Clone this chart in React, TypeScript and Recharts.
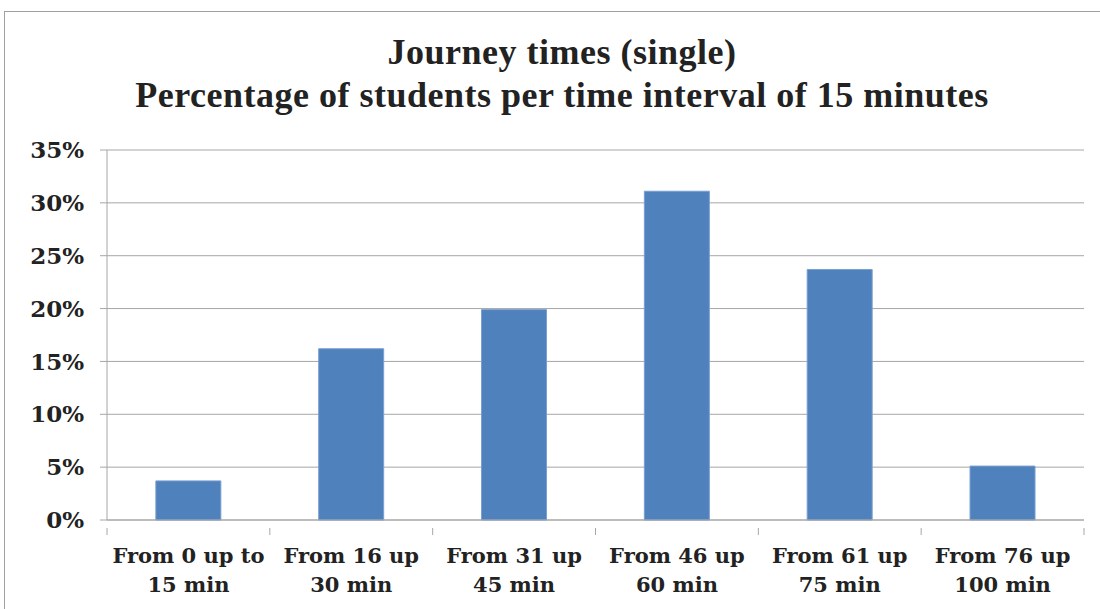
import React from 'react';
import { BarChart, Bar, XAxis, YAxis, CartesianGrid } from 'recharts';

const categories = [
  'From 0 up to|15 min',
  'From 16 up|30 min',
  'From 31 up|45 min',
  'From 46 up|60 min',
  'From 61 up|75 min',
  'From 76 up|100 min',
];
const percentages = [3.7, 16.2, 19.9, 31.1, 23.7, 5.1];
const yTicks = [0, 5, 10, 15, 20, 25, 30, 35];
const titleLines = ['Journey times (single)', 'Percentage of students per time interval of 15 minutes'];

const data = categories.map((c, i) => ({ name: c, value: percentages[i] }));

const W = 1100;
const H = 609;
const M = { top: 150, right: 16, left: 0, bottom: 0 };
const Y_W = 107;
const X_H = 89;
const FONT = '"DejaVu Serif", serif';
const GRID = '#a6a6a6';

const XTick = (props: any) => {
  const { x, y, payload, index } = props;
  const band = (W - M.right - Y_W) / categories.length;
  const parts = String(payload.value).split('|');
  const last = index === categories.length - 1;
  return (
    <g>
      <line x1={x - band / 2} x2={x - band / 2} y1={y} y2={y + 7} stroke={GRID} />
      {last && <line x1={x + band / 2} x2={x + band / 2} y1={y} y2={y + 7} stroke={GRID} />}
      <text textAnchor="middle" fontFamily={FONT} fontWeight="bold" fontSize={21} fill="#222">
        {parts.map((p, i) => (
          <tspan key={i} x={x} y={y + 35 + i * 29}>{p}</tspan>
        ))}
      </text>
    </g>
  );
};

export default function App() {
  return (
    <div style={{ position: 'absolute', left: 0, top: 0, width: W, height: H, background: '#fff', overflow: 'hidden' }}>
      <div style={{ position: 'absolute', left: 4, top: 11, width: W + 10, height: H, border: '1px solid #a0a0a0', boxSizing: 'border-box' }} />
      <div style={{ position: 'absolute', left: 12, top: 31, width: W, textAlign: 'center', fontFamily: '"Liberation Serif", serif', fontWeight: 'bold', fontSize: 36, lineHeight: '43px', color: '#222', letterSpacing: 0.5 }}>
        {titleLines.map((t, i) => <div key={i}>{t}</div>)}
      </div>
      <div style={{ position: 'absolute', left: 0, top: 0 }}>
        <BarChart width={W} height={H} data={data} margin={M} barCategoryGap="30%">
          <CartesianGrid vertical={false} stroke={GRID} />
          <XAxis dataKey="name" height={X_H} axisLine={{ stroke: GRID }} tickLine={false} tick={<XTick />} interval={0} />
          <YAxis width={Y_W} domain={[0, 35]} ticks={yTicks} tickFormatter={(v: number) => `${v}%`} axisLine={{ stroke: GRID }} tickLine={{ stroke: GRID }} tickSize={7} tickMargin={16} tick={{ fontFamily: FONT, fontWeight: 'bold', fontSize: 23, fill: '#222' }} />
          <Bar dataKey="value" fill="#4F81BD" stroke="#7a9fd0" strokeWidth={1} isAnimationActive={false} />
        </BarChart>
      </div>
    </div>
  );
}
